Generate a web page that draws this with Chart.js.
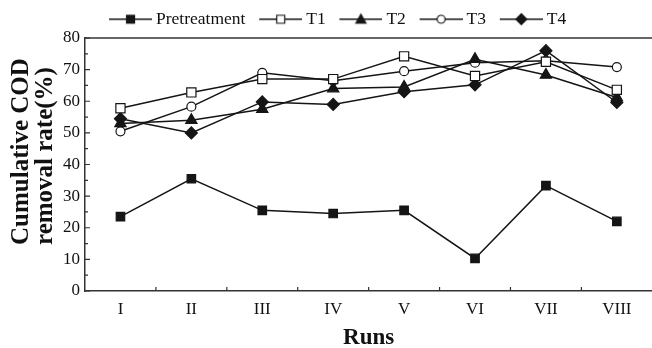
<!DOCTYPE html>
<html>
<head>
<meta charset="utf-8">
<script src="https://cdn.jsdelivr.net/npm/chart.js@4.4.0/dist/chart.umd.min.js"></script>
<style>
  html, body { margin: 0; padding: 0; background: #fff; overflow: hidden; }
  #wrap { width: 660px; height: 348px; }
</style>
</head>
<body>
<div id="wrap"><canvas id="codChart"></canvas></div>
<script>
const runs = ["I", "II", "III", "IV", "V", "VI", "VII", "VIII"];
const pretreatment = [23.5, 35.5, 25.5, 24.5, 25.5, 10.3, 33.3, 22.0];
const t1 = [57.8, 62.8, 67.0, 67.0, 74.2, 68.0, 72.5, 63.6];
const t2 = [53.0, 54.0, 57.5, 64.0, 64.5, 73.3, 68.3, 61.2];
const t3 = [50.5, 58.3, 69.0, 66.5, 69.5, 72.2, 72.8, 70.8];
const t4 = [54.5, 50.0, 59.8, 59.0, 63.0, 65.2, 76.0, 59.6];
const yTicks = [0, 10, 20, 30, 40, 50, 60, 70, 80];

const ink = "#151515";
const serif = "'Liberation Serif', 'Times New Roman', serif";

// little line+marker picture for each legend entry
function legendIcon(shape, filled) {
  const c = document.createElement("canvas");
  c.width = 51; c.height = 14;
  const g = c.getContext("2d");
  g.strokeStyle = ink; g.lineWidth = 1.5;
  g.beginPath(); g.moveTo(8, 7); g.lineTo(51, 7); g.stroke();
  const cx = 29.5, cy = 7;
  g.fillStyle = filled ? ink : "#fff";
  g.lineWidth = 1.2;
  g.beginPath();
  if (shape === "rect") g.rect(cx - 4, cy - 4, 8, 8);
  else if (shape === "triangle") { g.moveTo(cx, cy - 5); g.lineTo(cx + 5, cy + 4); g.lineTo(cx - 5, cy + 4); g.closePath(); }
  else if (shape === "circle") g.arc(cx, cy, 4, 0, Math.PI * 2);
  else { g.moveTo(cx, cy - 5.5); g.lineTo(cx + 5.5, cy); g.lineTo(cx, cy + 5.5); g.lineTo(cx - 5.5, cy); g.closePath(); }
  g.fill(); g.stroke();
  return c;
}

function series(label, data, shape, filled, radius) {
  return {
    label: label,
    data: data,
    borderColor: ink,
    borderWidth: 1.5,
    pointStyle: shape,
    pointRadius: radius,
    pointHoverRadius: radius,
    pointBackgroundColor: filled ? ink : "#fff",
    pointBorderColor: ink,
    pointBorderWidth: 1.2,
    tension: 0,
    icon: legendIcon(shape, filled)
  };
}

// inner ticks, top frame line and the two-line y title
const framePlugin = {
  id: "frame",
  afterDraw(chart) {
    const ctx = chart.ctx;
    const area = chart.chartArea;
    const x = chart.scales.x, y = chart.scales.y;
    ctx.save();
    ctx.strokeStyle = "#333";
    ctx.lineWidth = 1.5;
    ctx.beginPath();
    ctx.moveTo(area.left, area.top);
    ctx.lineTo(chart.width, area.top);
    ctx.stroke();

    ctx.lineWidth = 1.2;
    ctx.beginPath();
    for (let v = 0; v <= 80; v += 5) {
      const py = y.getPixelForValue(v);
      ctx.moveTo(area.left, py);
      ctx.lineTo(area.left + (v % 10 === 0 ? 5 : 3), py);
    }
    for (let i = 1; i < runs.length; i++) {
      const px = (x.getPixelForValue(i - 1) + x.getPixelForValue(i)) / 2;
      ctx.moveTo(px, area.bottom);
      ctx.lineTo(px, area.bottom - 4);
    }
    ctx.stroke();

    ctx.fillStyle = "#111";
    ctx.font = "bold 25px " + serif;
    ctx.textAlign = "left";
    ctx.textBaseline = "middle";
    ctx.translate(0, 245);
    ctx.rotate(-Math.PI / 2);
    ctx.fillText("Cumulative COD", 0, 22);
    ctx.fillText("removal rate(%)", 0, 46);
    ctx.restore();
  }
};

const ctx = document.getElementById("codChart").getContext("2d");
new Chart(ctx, {
  type: "line",
  data: {
    labels: runs,
    datasets: [
      series("Pretreatment", pretreatment, "rect", true, 6),
      series("T1", t1, "rect", false, 6.5),
      series("T2", t2, "triangle", true, 6.5),
      series("T3", t3, "circle", false, 4.5),
      series("T4", t4, "rectRot", true, 6)
    ]
  },
  options: {
    responsive: true,
    maintainAspectRatio: false,
    animation: false,
    layout: { padding: { left: 17, right: 5, top: 0, bottom: 0 } },
    plugins: {
      tooltip: { enabled: false },
      legend: {
        position: "top",
        align: "center",
        labels: {
          usePointStyle: true,
          pointStyleWidth: 41.5,
          padding: 10.5,
          color: "#111",
          font: { family: serif, size: 17.5 },
          generateLabels(chart) {
            return chart.data.datasets.map((ds, i) => ({
              text: ds.label,
              pointStyle: ds.icon,
              fontColor: "#111",
              lineWidth: 0,
              strokeStyle: "transparent",
              fillStyle: "transparent",
              hidden: false,
              datasetIndex: i
            }));
          }
        }
      }
    },
    scales: {
      x: {
        type: "category",
        offset: true,
        grid: { display: false, drawTicks: false, offset: true },
        border: { display: true, color: "#333", width: 1.5 },
        ticks: { color: "#111", padding: 8, font: { family: serif, size: 17 } },
        title: {
          display: true,
          text: "Runs",
          color: "#111",
          padding: { top: 0, bottom: 0 },
          font: { family: serif, size: 23, weight: "bold", lineHeight: 0.87 }
        },
        afterFit(scale) { scale.height = 57; }
      },
      y: {
        min: 0,
        max: 80,
        afterBuildTicks(scale) { scale.ticks = yTicks.map(v => ({ value: v })); },
        grid: { display: false, drawTicks: false },
        border: { display: true, color: "#333", width: 1.5 },
        ticks: { color: "#111", padding: 5, font: { family: serif, size: 17 } },
        afterFit(scale) { scale.width = 68; }
      }
    }
  },
  plugins: [framePlugin]
});
</script>
</body>
</html>
